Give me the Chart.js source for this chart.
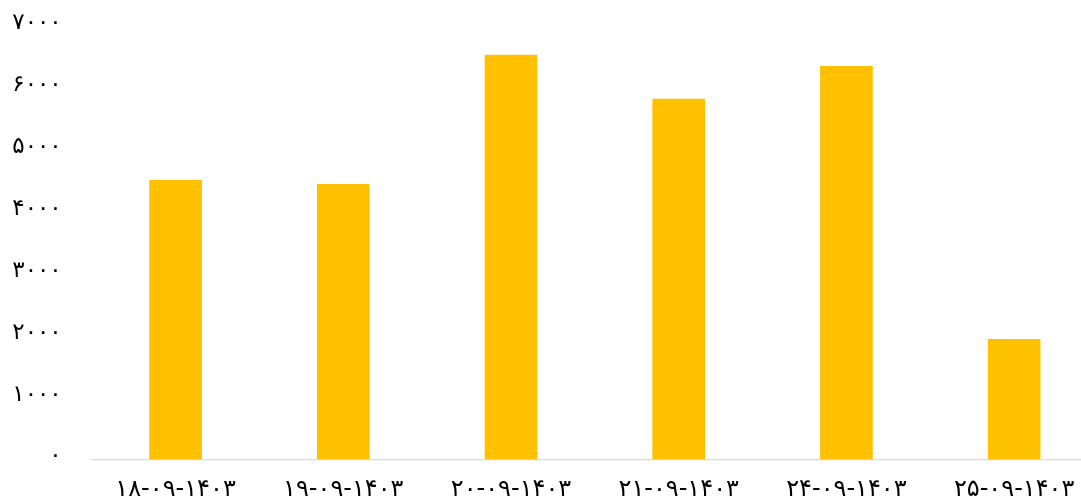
<!DOCTYPE html>
<html>
<head>
<meta charset="utf-8">
<script src="https://cdn.jsdelivr.net/npm/chart.js@4.4.1/dist/chart.umd.min.js"></script>
<style>
  html, body { margin: 0; padding: 0; background: #fff; overflow: hidden; }
  #wrap { width: 1098px; height: 502px; }
</style>
</head>
<body>
<div id="wrap"><canvas id="myChart" width="1098" height="502"></canvas></div>
<script>
// dates (shown left-to-right as in the picture)
const categories = ['۱۸-۰۹-۱۴۰۳', '۱۹-۰۹-۱۴۰۳', '۲۰-۰۹-۱۴۰۳', '۲۱-۰۹-۱۴۰۳', '۲۴-۰۹-۱۴۰۳', '۲۵-۰۹-۱۴۰۳'];
const values = [4515, 4450, 6535, 5825, 6355, 1945];
const yTicks = [0, 1000, 2000, 3000, 4000, 5000, 6000, 7000];
const yTickLabels = ['۰', '۱۰۰۰', '۲۰۰۰', '۳۰۰۰', '۴۰۰۰', '۵۰۰۰', '۶۰۰۰', '۷۰۰۰'];

const font = 'DejaVu Sans';

const ctx = document.getElementById('myChart').getContext('2d');
const chart = new Chart(ctx, {
  type: 'bar',
  data: {
    labels: categories,
    datasets: [{
      data: values,
      backgroundColor: '#FFC000',
      borderWidth: 0,
      barPercentage: 0.314,
      categoryPercentage: 1
    }]
  },
  options: {
    responsive: false,
    animation: false,
    layout: { padding: { top: 26, left: 0, right: 0, bottom: 0 } },
    plugins: { legend: { display: false }, tooltip: { enabled: false } },
    scales: {
      x: {
        grid: { display: false, drawTicks: false },
        border: { display: true, color: '#d9d9d9', width: 1.3 },
        ticks: { color: '#000', font: { family: font, size: 24 }, padding: 16, maxRotation: 0 },
        afterFit: function (s) { s.height = 42.5; }
      },
      y: {
        min: 0,
        max: 7000,
        grid: { display: false, drawTicks: false },
        border: { display: false },
        afterBuildTicks: function (s) { s.ticks = yTicks.map(v => ({ value: v })); },
        ticks: {
          color: '#000',
          font: { family: font, size: 23 },
          padding: 30,
          labelOffset: -3,
          callback: function (v) { return yTickLabels[yTicks.indexOf(v)]; }
        },
        afterFit: function (s) {
          s.width = 91.7;
          s.paddingTop = 0;
          s.paddingBottom = 0;
        }
      }
    }
  }
});
</script>
</body>
</html>
